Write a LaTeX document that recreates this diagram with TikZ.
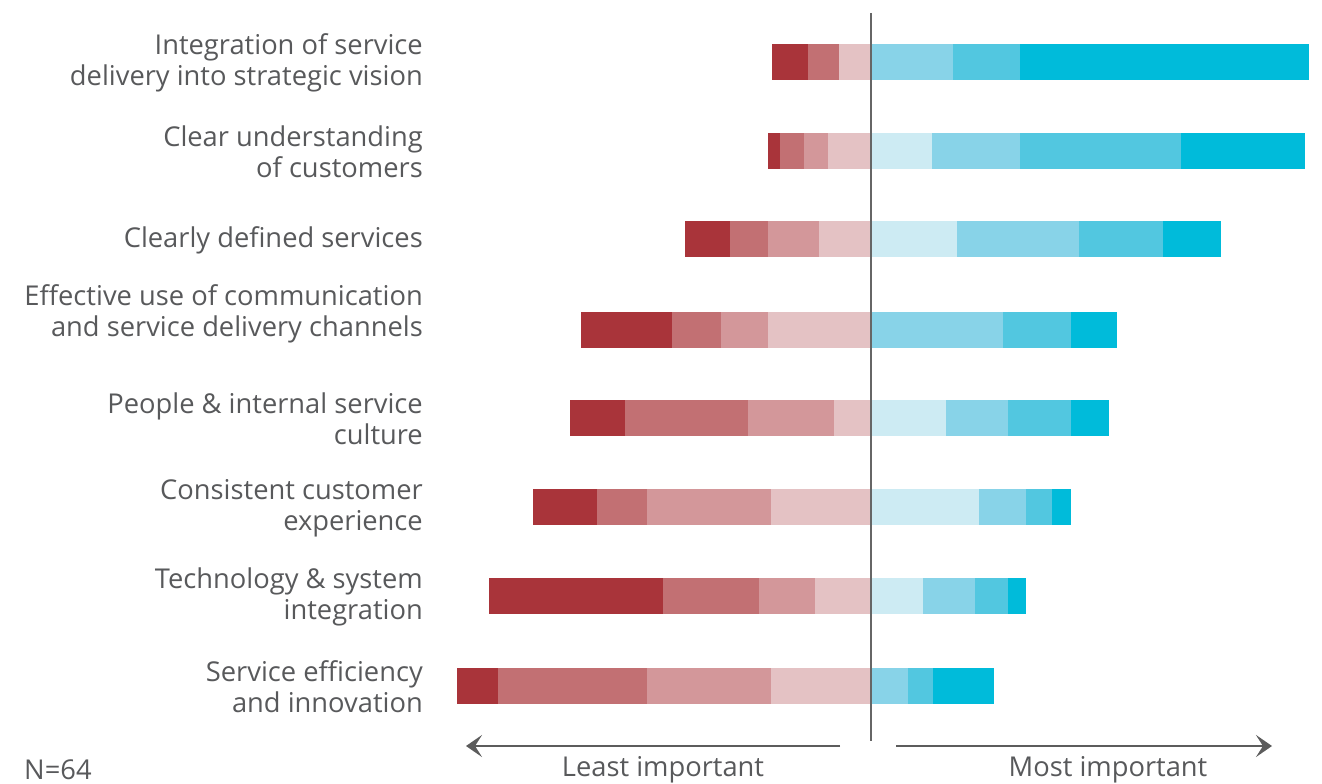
\documentclass[tikz,border=0pt]{standalone}
\usepackage{fontspec}
\setmainfont{Open Sans}
\usetikzlibrary{arrows.meta}
\definecolor{Lone}{HTML}{A9343A}
\definecolor{Ltwo}{HTML}{C27073}
\definecolor{Lthree}{HTML}{D3979A}
\definecolor{Lfour}{HTML}{E4C2C4}
\definecolor{Rone}{HTML}{CDEBF3}
\definecolor{Rtwo}{HTML}{88D3E8}
\definecolor{Rthree}{HTML}{52C7E0}
\definecolor{Rfour}{HTML}{00BBDA}
\definecolor{txt}{HTML}{58595B}
\definecolor{axisgray}{HTML}{666666}
\tikzset{
  lbl/.style={anchor=east, inner sep=0pt, align=right, text=txt,
    font=\fontsize{27.3}{31}\selectfont},
  btm/.style={inner sep=0pt, text=txt, font=\fontsize{27.3}{31}\selectfont},
  axarrow/.style={line width=2.8pt, draw=axisgray!90!black,
    -{Stealth[length=16pt,width=22pt,inset=7pt]}},
}
\newcommand{\seg}[4]{\fill[#4] (#1,#3-18) rectangle (#2,#3+18);}
\begin{document}
\begin{tikzpicture}[x=1pt,y=-1pt]
\useasboundingbox (0,0) rectangle (1322,784);
% bar 1
\seg{772}{808}{62}{Lone}\seg{808}{839}{62}{Ltwo}\seg{839}{870}{62}{Lfour}
\seg{870}{953}{62}{Rtwo}\seg{953}{1020}{62}{Rthree}\seg{1020}{1309}{62}{Rfour}
% bar 2
\seg{768}{780}{151}{Lone}\seg{780}{804}{151}{Ltwo}\seg{804}{828}{151}{Lthree}\seg{828}{870}{151}{Lfour}
\seg{870}{932}{151}{Rone}\seg{932}{1020}{151}{Rtwo}\seg{1020}{1181}{151}{Rthree}\seg{1181}{1305}{151}{Rfour}
% bar 3
\seg{685}{730}{239}{Lone}\seg{730}{768}{239}{Ltwo}\seg{768}{819}{239}{Lthree}\seg{819}{870}{239}{Lfour}
\seg{870}{957}{239}{Rone}\seg{957}{1079}{239}{Rtwo}\seg{1079}{1163}{239}{Rthree}\seg{1163}{1221}{239}{Rfour}
% bar 4
\seg{581}{672}{330}{Lone}\seg{672}{721}{330}{Ltwo}\seg{721}{768}{330}{Lthree}\seg{768}{870}{330}{Lfour}
\seg{870}{1003}{330}{Rtwo}\seg{1003}{1071}{330}{Rthree}\seg{1071}{1117}{330}{Rfour}
% bar 5
\seg{570}{625}{418}{Lone}\seg{625}{748}{418}{Ltwo}\seg{748}{834}{418}{Lthree}\seg{834}{870}{418}{Lfour}
\seg{870}{946}{418}{Rone}\seg{946}{1008}{418}{Rtwo}\seg{1008}{1071}{418}{Rthree}\seg{1071}{1109}{418}{Rfour}
% bar 6
\seg{533}{597}{507}{Lone}\seg{597}{647}{507}{Ltwo}\seg{647}{771}{507}{Lthree}\seg{771}{870}{507}{Lfour}
\seg{870}{979}{507}{Rone}\seg{979}{1026}{507}{Rtwo}\seg{1026}{1052}{507}{Rthree}\seg{1052}{1071}{507}{Rfour}
% bar 7
\seg{489}{663}{596}{Lone}\seg{663}{759}{596}{Ltwo}\seg{759}{815}{596}{Lthree}\seg{815}{870}{596}{Lfour}
\seg{870}{923}{596}{Rone}\seg{923}{975}{596}{Rtwo}\seg{975}{1008}{596}{Rthree}\seg{1008}{1026}{596}{Rfour}
% bar 8
\seg{457}{498}{686}{Lone}\seg{498}{647}{686}{Ltwo}\seg{647}{771}{686}{Lthree}\seg{771}{870}{686}{Lfour}
\seg{870}{908}{686}{Rtwo}\seg{908}{933}{686}{Rthree}\seg{933}{994}{686}{Rfour}
% centre line
\coordinate (ctop) at (870.5,13);
\coordinate (cbot) at (870.5,741);
\draw[line width=2pt, axisgray] (ctop) -- (cbot);
% labels
\node[lbl] (l1) at (423,63) {Integration of service\\delivery into strategic vision};
\node[lbl] (l2) at (423,152) {Clear understanding\\of customers};
\node[lbl] (l3) at (423,240) {Clearly defined services};
\node[lbl] (l4) at (423,314) {Effective use of communication\\and service delivery channels};
\node[lbl] (l5) at (423,419) {People \& internal service\\culture};
\node[lbl] (l6) at (423,508) {Consistent customer\\experience};
\node[lbl] (l7) at (423,597) {Technology \& system\\integration};
\node[lbl] (l8) at (423,687) {Service efficiency\\and innovation};
% axis arrows
\coordinate (lstart) at (840,746);
\coordinate (lend) at (466,746);
\coordinate (rstart) at (896,746);
\coordinate (rend) at (1272,746);
\draw[axarrow] (lstart) -- (lend);
\draw[axarrow] (rstart) -- (rend);
\node[btm, anchor=west] (n) at (24,770) {N=64};
\node[btm] (least) at (663,770) {Least important};
\node[btm] (most) at (1108,770) {Most important};
\end{tikzpicture}
\end{document}
